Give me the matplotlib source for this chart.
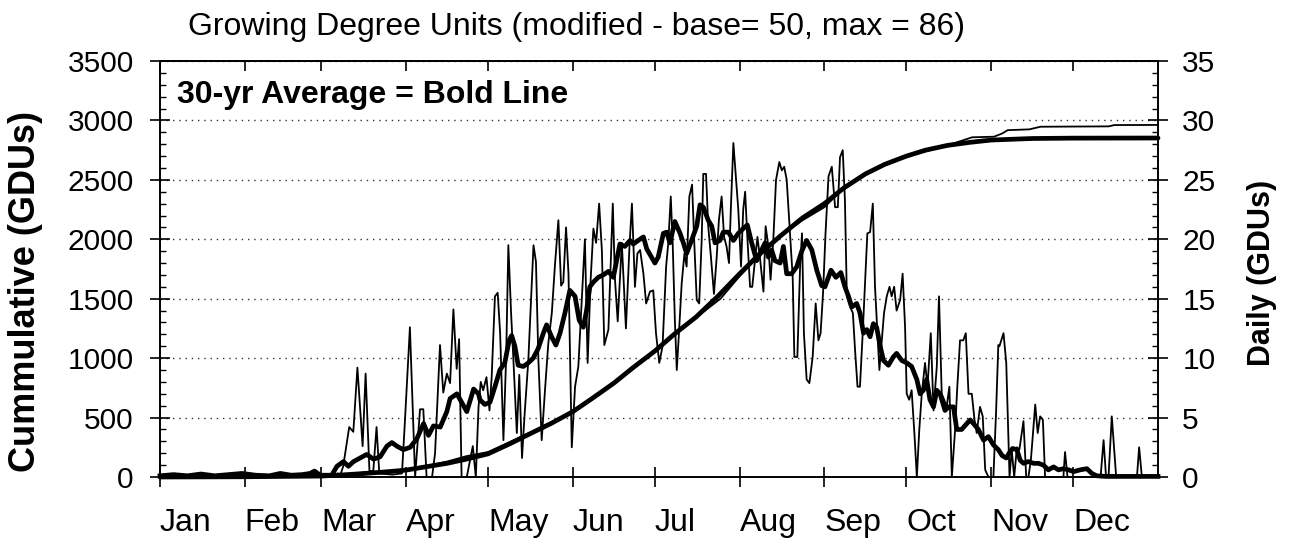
import matplotlib.pyplot as plt
from matplotlib.ticker import MultipleLocator

plt.rcParams["font.family"] = ["Liberation Sans", "DejaVu Sans"]

month_starts = [0, 31, 59, 90, 120, 151, 181, 212, 243, 273, 304, 334]
month_labels = ["Jan", "Feb", "Mar", "Apr", "May", "Jun", "Jul", "Aug", "Sep", "Oct", "Nov", "Dec"]

# current year, daily GDUs (thin line)
yr_day = [0, 26, 27, 28, 40, 41, 42, 54, 55, 56, 57, 58, 64, 65, 66,
          67.0, 69.2, 70.7, 72.2, 74.1, 75.2, 76.6, 78.0, 79.2, 80.2, 85, 88.5, 89.6, 91.4, 93.3,
          95.1, 96.3, 97.5, 99.5, 100.6, 102.4, 103.6, 104.9, 106.1, 107.3, 108.5, 109.4, 110.3,
          112.2, 114.4, 115.5, 116.5, 117.3, 118.2, 119.4, 120.5, 121.3, 122.5, 123.5, 124.4,
          125.6, 126.6, 127.4, 128.4, 129.2, 130.5, 131.4, 132.4, 133.3, 134.7, 136.6, 137.5,
          138.4, 139.6, 140.8, 142.0, 143.3, 144.5, 145.7, 146.7, 147.5, 148.5, 149.4, 150.6,
          151.8, 153.0, 154.2, 155.4, 156.4, 157.5, 158.5, 159.5, 160.6, 161.6, 162.5, 164.0,
          165.6, 166.4, 167.4, 168.9, 170.4, 171.7, 172.6, 173.7, 174.6, 175.6, 176.8, 177.8,
          179.2, 180.4, 181.4, 182.6, 183.8, 185.1, 185.9, 186.8, 187.5, 188.3, 189.0, 189.8,
          190.8, 191.8, 192.6, 193.6, 194.6, 195.4, 196.3, 197.2, 198.1, 198.7, 199.7, 200.5,
          201.5, 202.6, 203.6, 204.4, 205.4, 206.3, 207.2, 208.1, 208.8, 209.7, 210.7, 211.5,
          212.5, 213.3, 214.0, 214.8, 215.8, 216.6, 217.6, 218.5, 219.4, 220.7, 221.5, 222.5,
          223.3, 224.3, 225.3, 226.5, 227.4, 228.3, 229.2, 230.4, 231.4, 232.0, 233.1, 234.1,
          234.8, 235.5, 236.5, 237.5, 238.7, 239.8, 240.8, 241.6, 242.5, 243.4, 244.5, 245.7,
          246.9, 247.9, 248.7, 249.7, 250.5, 251.2, 252.4, 253.4, 254.2, 255.1, 256.0, 257.0,
          257.9, 258.7, 259.7, 260.7, 261.5, 262.4, 263.1, 264.0, 264.8, 265.8, 266.8, 267.6,
          268.5, 269.4, 270.7, 271.6, 272.5, 273.1, 274.0, 274.9, 275.9, 276.8, 277.7, 278.6,
          279.8, 280.7, 281.9, 282.9, 284.1, 284.9, 285.9, 286.8, 287.7, 288.7, 289.6, 290.8,
          291.6, 292.6, 293.8, 294.7, 295.7, 296.9, 297.9, 298.7, 299.9, 300.9, 301.8, 303.0,
          304.8, 305.8, 306.6, 307.0, 308.5, 309.5, 310.7, 311.5, 312.4, 313.4, 314.3, 315.8,
          316.8, 317.6, 318.5, 320.1, 321.0, 321.9, 322.9, 323.7, 330.4, 331.0, 331.9, 344.0,
          345.1, 346.0, 346.9, 348.1, 349.7, 357.3, 358.1, 359.1, 365]
yr_gdu = [0, 0, 0.2, 0, 0, 0.2, 0, 0, 0.3, 0, 0.4, 0, 0, 0.3, 0.2,
          0.9, 4.2, 3.8, 9.2, 2.6, 8.7, 0.5, 0.5, 4.2, 0.3, 0.2, 0.3, 4.8, 12.6, 0,
          5.7, 5.7, 0, 0, 2.0, 11.1, 7.1, 8.7, 7.9, 14.1, 9.1, 11.6, 0,
          0, 2.6, 0, 5.9, 8.0, 7.3, 8.4, 5.6, 8.4, 15.2, 15.5, 12.1,
          3.1, 10.1, 19.5, 13.8, 10.1, 3.7, 8.6, 1.6, 5.1, 9.8, 19.5, 18.1,
          9.8, 3.1, 7.3, 11.2, 13.8, 18.0, 21.6, 16.1, 16.4, 21.0, 17.1, 2.5,
          7.6, 9.3, 14.6, 20.0, 9.6, 16.6, 20.9, 19.7, 23.0, 19.1, 11.1, 12.4,
          23.0, 16.6, 13.1, 19.7, 12.5, 19.4, 23.0, 16.0, 18.8, 19.1, 17.1, 14.6,
          15.6, 15.7, 12.1, 9.6, 11.0, 17.7, 19.7, 23.6, 19.7, 13.2, 9.0, 12.1,
          16.3, 18.8, 17.7, 23.6, 24.6, 19.7, 14.9, 14.6, 19.9, 25.5, 25.5, 21.1,
          18.5, 15.4, 18.5, 21.6, 23.6, 20.2, 19.4, 18.0, 22.7, 28.1, 25.0, 22.5,
          17.7, 22.5, 24.0, 20.2, 16.0, 16.0, 18.2, 20.2, 18.5, 15.6, 21.1, 19.4,
          16.6, 19.9, 25.0, 26.5, 25.8, 26.1, 25.0, 20.5, 16.8, 10.1, 10.1, 17.7,
          20.5, 12.1, 8.2, 7.9, 10.1, 14.6, 11.5, 12.1, 15.5, 20.5, 25.3, 26.1,
          22.7, 22.7, 26.9, 27.5, 23.3, 15.2, 14.3, 13.8, 10.7, 7.6, 7.6, 12.1,
          16.6, 20.5, 20.6, 23.0, 16.0, 12.1, 9.0, 11.5, 13.8, 15.2, 16.0, 15.2,
          16.0, 14.0, 14.9, 17.1, 12.6, 7.0, 6.5, 7.3, 3.7, 0, 4.0, 7.0,
          9.6, 7.6, 12.1, 5.6, 9.3, 15.2, 7.0, 6.5, 5.9, 7.6, 0, 4.0,
          7.6, 11.5, 11.5, 12.1, 7.0, 7.0, 4.8, 3.7, 5.9, 5.1, 0.6, 0,
          0, 5.6, 11.1, 11.0, 12.1, 9.6, 0, 2.3, 0, 2.5, 2.3, 4.7,
          0, 0, 1.4, 6.1, 3.7, 5.1, 4.8, 0, 0, 2.1, 0, 0,
          3.1, 0, 0, 5.1, 0, 0, 2.5, 0, 0]

# 30-yr average, daily GDUs (bold line)
avg_day = [0, 5, 10, 15, 20, 25, 30, 35, 40, 44, 48, 52, 54.9, 56.5, 58.6, 62.8, 64.7, 67.1,
           68.9, 70.8, 73.2, 75.6, 78.1, 80.5, 83.0, 84.8, 86.6, 89.0, 91.5, 93.9, 96.4, 98.2,
           100.0, 102.5, 104.9, 106.1, 108.6, 111.0, 112.2, 114.7, 116.5, 117.0, 118.8, 120.7,
           122.5, 124.3, 126.1, 127.7, 128.6, 129.8, 131.0, 132.9, 134.7, 136.5, 138.3, 140.2,
           141.4, 143.2, 144.8, 146.3, 148.1, 149.9, 151.8, 153.3, 154.8, 156.0, 157.2, 158.5,
           160.3, 162.1, 164.0, 165.8, 167.0, 168.2, 170.0, 171.9, 173.1, 174.9, 176.8, 178.0,
           179.5, 181.0, 182.2, 184.1, 185.3, 186.5, 188.3, 190.2, 191.4, 192.6, 194.4, 196.3,
           197.5, 198.7, 200.5, 201.8, 203.0, 204.8, 206.0, 207.9, 209.7, 211.5, 213.3, 214.8,
           216.4, 218.2, 219.4, 221.3, 222.5, 223.7, 224.9, 226.8, 228.0, 229.2, 231.0, 232.9,
           234.7, 236.5, 238.4, 240.2, 242.0, 243.2, 245.4, 247.2, 249.0, 250.5, 251.8, 253.0,
           254.8, 256.0, 257.3, 258.5, 259.7, 260.9, 262.1, 263.4, 264.6, 266.4, 268.2, 269.4,
           271.3, 273.1, 274.9, 276.8, 278.0, 279.2, 280.4, 281.6, 282.9, 284.1, 285.3, 287.1,
           288.4, 290.2, 291.4, 293.2, 295.1, 296.3, 297.5, 299.3, 301.2, 303.0, 304.8, 306.6,
           308.0, 309.5, 310.8, 311.8, 313.4, 314.6, 315.8, 317.6, 319.5, 321.3, 323.1, 324.9,
           326.8, 328.6, 330.4, 332.3, 334.1, 336.5, 339.0, 340.8, 342.6, 346, 365]
avg_gdu = [0.1, 0.2, 0.1, 0.25, 0.1, 0.2, 0.3, 0.15, 0.1, 0.3, 0.15, 0.2, 0.3, 0.5, 0.15, 0.15, 0.9, 1.3,
           0.9, 1.3, 1.6, 1.9, 1.5, 1.7, 2.6, 2.9, 2.6, 2.3, 2.5, 3.2, 4.5, 3.5,
           4.3, 4.2, 5.5, 6.6, 7.0, 6.0, 5.5, 7.4, 7.0, 6.5, 6.1, 6.3,
           7.6, 9.0, 9.6, 11.5, 11.9, 11.0, 9.4, 9.3, 9.6, 10.0, 10.8, 12.1,
           12.8, 11.8, 11.1, 12.1, 13.8, 15.7, 15.2, 13.2, 12.6, 14.0, 16.0, 16.4,
           16.8, 17.0, 17.3, 16.8, 18.2, 19.6, 19.4, 19.9, 19.6, 19.9, 20.2, 19.2,
           18.6, 18.0, 18.5, 20.5, 20.6, 19.7, 21.5, 20.5, 19.7, 18.8, 19.9, 21.1,
           22.9, 22.7, 21.6, 21.1, 19.7, 19.9, 20.6, 20.6, 19.9, 20.5, 20.9, 21.2,
           19.7, 18.2, 18.8, 19.7, 18.5, 19.1, 18.2, 18.0, 19.4, 17.1, 17.1, 17.7,
           19.0, 19.9, 19.1, 17.4, 16.1, 16.0, 17.4, 16.8, 17.2, 16.0, 15.2, 14.3,
           14.6, 13.8, 12.1, 12.4, 11.8, 12.9, 12.6, 11.0, 9.8, 9.4, 10.1, 10.4,
           9.8, 9.6, 9.3, 8.2, 7.0, 7.3, 8.2, 6.5, 5.9, 7.3, 7.0, 5.6,
           5.9, 5.9, 4.0, 4.0, 4.5, 4.8, 4.5, 4.0, 3.1, 3.4, 2.7, 2.3,
           1.8, 1.6, 2.1, 2.4, 2.3, 1.4, 1.15, 1.3, 1.15, 1.15, 1.0, 0.6,
           0.85, 0.6, 0.7, 0.6, 0.45, 0.6, 0.7, 0.3, 0.1, 0.05, 0.05]

# cumulative GDUs
cum_avg_day = [0, 31, 59, 67, 75, 82, 90, 97, 105, 112, 120, 128, 135, 143, 151, 158, 166, 173,
               181, 188, 196, 204, 212, 219, 227, 235, 243, 250, 258, 265, 273, 280, 288, 296,
               304, 319, 334, 365]
cum_avg = [0, 2, 8, 18, 30, 42, 58, 85, 115, 150, 195, 280, 360, 450, 550, 660, 790, 920,
           1060, 1200, 1345, 1520, 1710, 1870, 2030, 2180, 2300, 2430, 2550, 2630, 2700, 2750,
           2790, 2815, 2835, 2848, 2851, 2852]

cum_yr_day = [0, 59, 67, 75, 82, 90, 97, 105, 112, 120, 135, 151, 166, 181, 196, 205, 212, 219,
              227, 235, 243, 250, 258, 265, 273, 280, 288, 292, 297, 305, 308, 310, 318, 322,
              347, 349, 365]
cum_yr = [0, 5, 15, 40, 45, 55, 90, 130, 175, 210, 370, 550, 790, 1060, 1340, 1500, 1690, 1860,
          2030, 2160, 2270, 2430, 2545, 2620, 2695, 2740, 2790, 2820, 2858, 2863, 2890, 2918,
          2925, 2947, 2950, 2961, 2962]

fig = plt.figure(figsize=(12.95, 5.38), dpi=100)
ax = fig.add_axes([160 / 1295, 61 / 538, 998 / 1295, 416 / 538])
ax2 = ax.twinx()

ax.plot(cum_avg_day, cum_avg, color="black", lw=3.4, solid_capstyle="round", clip_on=False, zorder=3)
ax.plot(cum_yr_day, cum_yr, color="black", lw=1.3, clip_on=False, zorder=3)
ax2.plot(avg_day, avg_gdu, color="black", lw=3.4, solid_joinstyle="round", clip_on=False)
ax2.plot(yr_day, yr_gdu, color="black", lw=1.3, clip_on=False)

ax.set_xlim(0, 365)
ax.set_ylim(0, 3500)
ax2.set_ylim(0, 35)

ax.yaxis.set_major_locator(MultipleLocator(500))
ax.yaxis.set_minor_locator(MultipleLocator(100))
ax2.yaxis.set_major_locator(MultipleLocator(5))
ax2.yaxis.set_minor_locator(MultipleLocator(1))

ax.set_xticks(month_starts, month_labels, ha="left")
ax.tick_params(axis="x", direction="inout", length=14, width=1.2, labelsize=23, pad=15)
ax.tick_params(axis="y", which="major", direction="inout", length=14, width=1.2, labelsize=21.5, pad=12)
ax.tick_params(axis="y", which="minor", direction="in", length=4, width=1)
ax2.tick_params(axis="y", which="major", direction="inout", length=14, width=1.2, labelsize=21.5, pad=10.5)
ax2.tick_params(axis="y", which="minor", direction="in", length=4, width=1)

top = ax.secondary_xaxis("top")
top.set_xticks(month_starts)
top.tick_params(direction="in", length=7, width=1.2, labeltop=False, labelbottom=False)

for a in (ax, ax2, top):
    for s in a.spines.values():
        s.set_linewidth(1.2)

ax.grid(axis="y", which="major", linestyle=(0, (1, 3.5)), color="#333333", lw=1.0)

fig.text(188 / 1295, 1 - 35 / 538, "Growing Degree Units (modified - base= 50, max = 86)",
         fontsize=23, va="baseline", ha="left")
fig.text(177 / 1295, 1 - 103 / 538, "30-yr Average = Bold Line", fontsize=23,
         fontweight="bold", va="baseline", ha="left")
fig.text(26 / 1295, 1 - 291 / 538, "Cummulative (GDUs)", rotation=90, fontsize=26,
         fontweight="bold", ha="center", va="center")
fig.text(1262 / 1295, 1 - 273 / 538, "Daily (GDUs)", rotation=90, fontsize=22,
         fontweight="bold", ha="center", va="center")

fig.savefig("out.png", dpi=100)
